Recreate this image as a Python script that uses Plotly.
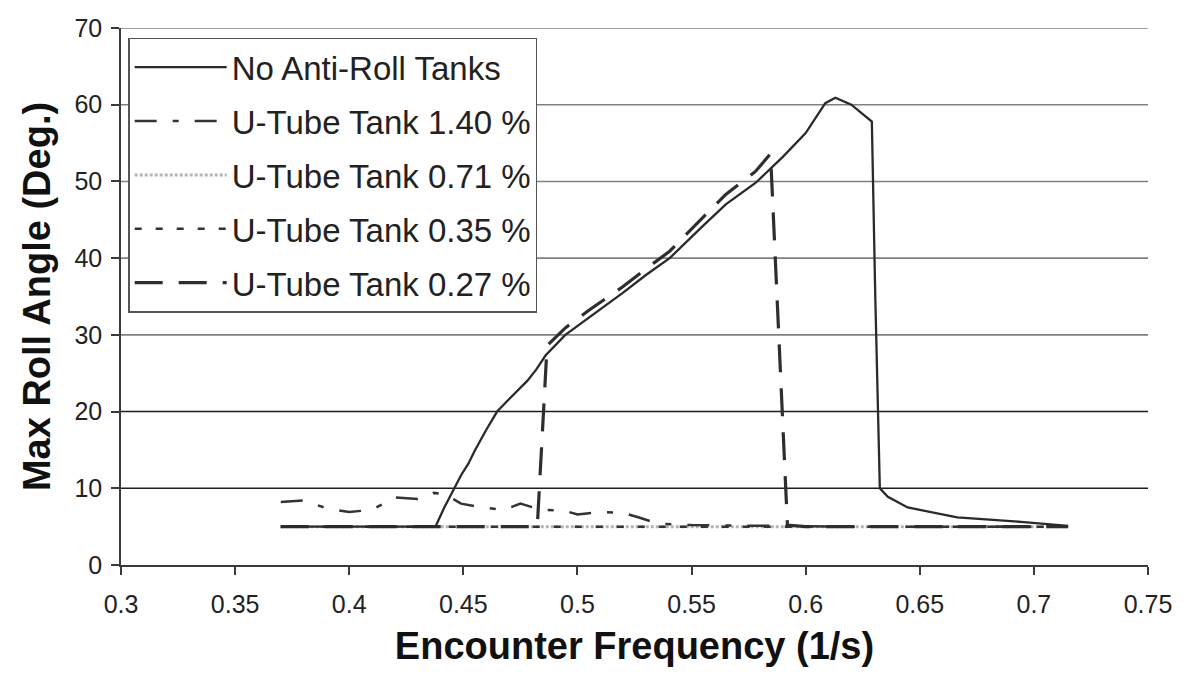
import plotly.graph_objects as go

# Encounter frequency (1/s) and maximum roll angle (deg) for each configuration
freq_none = [0.370, 0.400, 0.4378, 0.4415, 0.4461, 0.4490, 0.4522, 0.4550, 0.4600, 0.4648,
             0.4700, 0.4738, 0.4780, 0.4820, 0.4860, 0.4947, 0.5050, 0.5200, 0.5300, 0.5404,
             0.5550, 0.5650, 0.5780, 0.5900, 0.6000, 0.6086, 0.6130, 0.6200, 0.6290, 0.6305,
             0.6325, 0.6360, 0.6447, 0.6664, 0.6956, 0.7150]
roll_none = [5.0, 5.0, 5.0, 7.4, 10.0, 11.7, 13.2, 14.9, 17.6, 20.0,
             21.6, 22.7, 24.0, 25.5, 27.3, 30.0, 32.2, 35.5, 37.8, 40.0,
             44.2, 47.0, 49.8, 53.2, 56.3, 60.2, 60.9, 60.0, 57.8, 35.0,
             10.0, 8.9, 7.5, 6.2, 5.6, 5.1]

freq_140 = [0.370, 0.380, 0.390, 0.400, 0.410, 0.420, 0.430, 0.437, 0.442, 0.449,
            0.458, 0.468, 0.475, 0.484, 0.494, 0.500, 0.510, 0.520, 0.527, 0.535,
            0.550, 0.580, 0.620, 0.680, 0.715]
roll_140 = [8.2, 8.4, 7.4, 6.9, 7.2, 8.8, 8.6, 9.4, 9.2, 8.0,
            7.5, 7.2, 8.0, 7.2, 7.1, 6.6, 6.9, 6.8, 6.2, 5.4,
            5.2, 5.1, 5.0, 5.0, 5.0]

freq_071 = [0.370, 0.450, 0.550, 0.650, 0.715]
roll_071 = [5.0, 5.0, 5.0, 5.0, 5.0]

freq_035 = [0.370, 0.450, 0.550, 0.650, 0.715]
roll_035 = [5.0, 5.0, 5.0, 5.0, 5.0]

freq_027 = [0.370, 0.4824, 0.4867, 0.4947, 0.5050, 0.5200, 0.5300, 0.5404, 0.5550, 0.5650,
            0.5780, 0.5846, 0.5920, 0.6000, 0.6500, 0.7150]
roll_027 = [5.0, 5.0, 28.6, 30.9, 33.2, 36.3, 38.6, 40.9, 45.3, 48.3,
            51.3, 53.6, 5.2, 5.0, 5.0, 5.0]

x_ticks = [0.3, 0.35, 0.4, 0.45, 0.5, 0.55, 0.6, 0.65, 0.7, 0.75]
x_tick_text = ["0.3", "0.35", "0.4", "0.45", "0.5", "0.55", "0.6", "0.65", "0.7", "0.75"]
y_ticks = [0, 10, 20, 30, 40, 50, 60, 70]

FONT = "Liberation Sans, Arial, sans-serif"
INK = "#222222"

fig = go.Figure()

# drawn bottom-up so the dark dashed lines sit on top of the light ones
fig.add_trace(go.Scatter(
    x=freq_071, y=roll_071, mode="lines", name="U-Tube Tank 0.71 %",
    line=dict(color="#b4b4b4", width=3, dash="3px,2px"),
    legendrank=3, legendgroup="g3"))
fig.add_trace(go.Scatter(
    x=freq_035, y=roll_035, mode="lines", name="U-Tube Tank 0.35 %",
    line=dict(color="#333333", width=2.5, dash="7px,14px"),
    legendrank=4, legendgroup="g4"))
fig.add_trace(go.Scatter(
    x=freq_140, y=roll_140, mode="lines", name="U-Tube Tank 1.40 %",
    line=dict(color="#333333", width=2.5, dash="22px,16px,6px,16px"),
    legendrank=2, legendgroup="g2"))
fig.add_trace(go.Scatter(
    x=freq_027, y=roll_027, mode="lines", name="U-Tube Tank 0.27 %",
    line=dict(color="#2e2e2e", width=3.2, dash="28px,16px"),
    legendrank=5, legendgroup="g5"))
fig.add_trace(go.Scatter(
    x=freq_none, y=roll_none, mode="lines", name="No Anti-Roll Tanks",
    line=dict(color="#2a2a2a", width=2.3),
    legendrank=1, legendgroup="g1"))

# horizontal grid: the lower two levels print darker than the rest
dark_levels = [10, 20]
for level in y_ticks[1:]:
    fig.add_shape(type="line", xref="paper", yref="y", x0=0, x1=1, y0=level, y1=level,
                  line=dict(color="#1e1e1e" if level in dark_levels else "#808080", width=1.6),
                  layer="below")

fig.update_layout(
    width=1184, height=686,
    margin=dict(l=121, r=29, t=28, b=121),
    paper_bgcolor="white", plot_bgcolor="white",
    font=dict(family=FONT, color=INK),
    showlegend=True,
    legend=dict(
        x=0.007, y=0.982, xanchor="left", yanchor="top",
        bgcolor="white", bordercolor="#555555", borderwidth=1.5,
        font=dict(family=FONT, size=33, color=INK),
        traceorder="grouped", tracegroupgap=8, itemwidth=92,
    ),
    xaxis=dict(
        range=[0.3, 0.75], tickmode="array", tickvals=x_ticks, ticktext=x_tick_text,
        showgrid=False, zeroline=False, showline=True, linecolor="#3a3a3a", linewidth=1.6,
        ticks="outside", ticklen=8, tickcolor="#3a3a3a", tickwidth=1.5,
        ticklabelstandoff=8,
        tickfont=dict(family=FONT, size=25, color=INK),
        title=dict(text="<b>Encounter Frequency (1/s)</b>", standoff=16,
                   font=dict(family=FONT, size=38, color="#111111")),
    ),
    yaxis=dict(
        range=[0, 70], tickmode="array", tickvals=y_ticks,
        showgrid=False, zeroline=False, showline=True, linecolor="#3a3a3a", linewidth=1.6,
        ticks="outside", ticklen=8, tickcolor="#3a3a3a", tickwidth=1.5,
        ticklabelstandoff=4,
        tickfont=dict(family=FONT, size=25, color=INK),
        title=dict(text="<b>Max Roll Angle (Deg.)</b>", standoff=12,
                   font=dict(family=FONT, size=38, color="#111111")),
    ),
)

fig.write_html("out.html")
